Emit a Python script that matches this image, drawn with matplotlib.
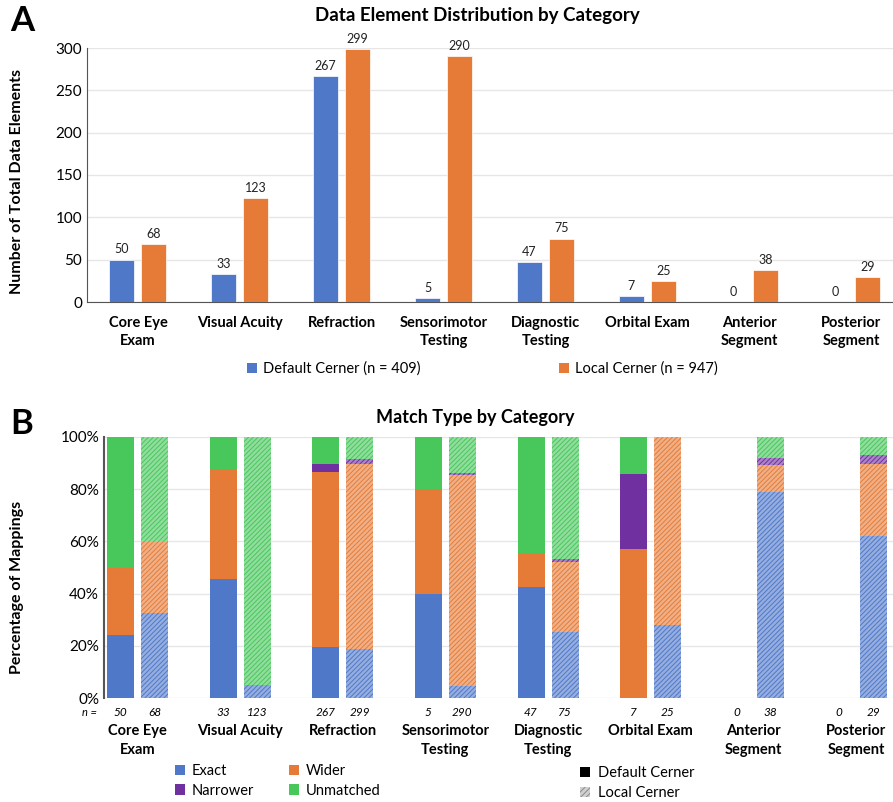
"""
Figura de dos paneles: distribucion de elementos y tipo de match por categoria.
Salida: out.png
"""

import numpy as np
import matplotlib
matplotlib.use("Agg")
import matplotlib.pyplot as plt
from matplotlib.patches import Patch

plt.rcParams.update({
    "font.family": ["Lato", "DejaVu Sans"],
    "font.size": 10,
    "hatch.linewidth": 0.7,
})

# -- Datos --
CATEGORIES = ["Core Eye\nExam", "Visual Acuity", "Refraction", "Sensorimotor\nTesting",
              "Diagnostic\nTesting", "Orbital Exam", "Anterior\nSegment", "Posterior\nSegment"]
DEFAULT_N = [50, 33, 267, 5, 47, 7, 0, 0]
LOCAL_N = [68, 123, 299, 290, 75, 25, 38, 29]

# porcentajes por tipo de match
DEFAULT_EXACT = [24.0, 45.5, 19.7, 40.0, 42.6, 0.0, 0.0, 0.0]
DEFAULT_WIDER = [26.0, 42.4, 66.8, 40.0, 12.7, 57.1, 0.0, 0.0]
DEFAULT_NARROWER = [0.0, 0.0, 3.3, 0.0, 0.0, 28.6, 0.0, 0.0]
DEFAULT_UNMATCHED = [50.0, 12.1, 10.2, 20.0, 44.7, 14.3, 0.0, 0.0]

LOCAL_EXACT = [32.4, 4.9, 18.8, 4.5, 25.3, 28.0, 78.9, 62.1]
LOCAL_WIDER = [27.9, 0.0, 70.7, 81.1, 26.7, 72.0, 10.5, 27.6]
LOCAL_NARROWER = [0.0, 0.0, 1.9, 0.5, 1.3, 0.0, 2.6, 3.4]
LOCAL_UNMATCHED = [39.7, 95.1, 8.6, 13.9, 46.7, 0.0, 7.9, 6.9]

BLUE = "#4F78C9"
ORANGE = "#E67B37"
PURPLE = "#7030A0"
GREEN = "#48C75B"
GRID = "#E6E6E6"
SPINE = "#555555"


def tint(color, f):
    c = np.array(matplotlib.colors.to_rgb(color))
    return tuple(c + (1 - c) * f)


x = np.arange(len(CATEGORIES))
W, H = 893, 802
fig = plt.figure(figsize=(W / 100, H / 100), dpi=100)

# ================================================================
# Panel A
# ================================================================
axA = fig.add_axes([87 / W, (H - 302) / H, (W - 87) / W, 254 / H])
bw = 0.245
off = 0.157
b1 = axA.bar(x - off, DEFAULT_N, bw, color=BLUE, edgecolor="white", linewidth=0.5, zorder=3)
b2 = axA.bar(x + off, LOCAL_N, bw, color=ORANGE, edgecolor="white", linewidth=0.5, zorder=3)
for bars in (b1, b2):
    for r in bars:
        axA.text(r.get_x() + r.get_width() / 2, r.get_height() + 5, f"{int(r.get_height())}",
                 ha="center", va="bottom", fontsize=9, color="#222222")

axA.set_xlim(-0.5, 7.41)
axA.set_ylim(0, 300)
axA.set_yticks(range(0, 301, 50))
axA.set_xticks(x)
axA.set_xticklabels(CATEGORIES, fontweight="bold", fontsize=10.5, linespacing=1.4)
axA.tick_params(axis="both", length=0, labelsize=11)
axA.tick_params(axis="x", pad=10, labelsize=10.5)
axA.grid(axis="y", color=GRID, linewidth=1, zorder=0)
for s in ("top", "right"):
    axA.spines[s].set_visible(False)
axA.spines["left"].set_color(SPINE)
axA.spines["bottom"].set_color(SPINE)
axA.set_ylabel("Number of Total Data Elements", fontweight="bold", fontsize=11.5)
axA.yaxis.set_label_coords(-0.078, 0.474)

fig.text(477 / W, 1 - 15 / H, "Data Element Distribution by Category",
         ha="center", va="center", fontsize=13.5, fontweight="bold")
fig.text(10 / W, 1 - 5 / H, "A", ha="left", va="top", fontsize=25, fontweight="bold")

fig.legend(handles=[Patch(facecolor=BLUE, label="Default Cerner (n = 409)"),
                    Patch(facecolor=ORANGE, label="Local Cerner (n = 947)")],
           loc="center left", bbox_to_anchor=(234 / W, 1 - 369 / H), ncol=2,
           frameon=False, fontsize=10.5, handlelength=0.7, handleheight=0.7,
           handletextpad=0.4, columnspacing=9.5)

# ================================================================
# Panel B
# ================================================================
axB = fig.add_axes([104 / W, (H - 698) / H, (W - 104) / W, 261 / H])
bw2 = 0.263
off2 = 0.166


def stack(ax, xs, series, colors, local):
    bottom = np.zeros(len(xs))
    for vals, col in zip(series, colors):
        vals = np.array(vals)
        if local:
            ax.bar(xs, vals, bw2, bottom=bottom, color=tint(col, 0.4), edgecolor=col,
                   hatch="///////", linewidth=0, zorder=3)
        else:
            ax.bar(xs, vals, bw2, bottom=bottom, color=col, linewidth=0, zorder=3)
        bottom += vals


colors = [BLUE, ORANGE, PURPLE, GREEN]
stack(axB, x - off2, [DEFAULT_EXACT, DEFAULT_WIDER, DEFAULT_NARROWER, DEFAULT_UNMATCHED], colors, False)
stack(axB, x + off2, [LOCAL_EXACT, LOCAL_WIDER, LOCAL_NARROWER, LOCAL_UNMATCHED], colors, True)

axB.set_xlim(-0.326, 7.36)
axB.set_ylim(0, 100)
axB.set_yticks(range(0, 101, 20))
axB.set_yticklabels([f"{v}%" for v in range(0, 101, 20)])
axB.set_xticks(x)
axB.set_xticklabels(CATEGORIES, fontweight="bold", fontsize=10.5, linespacing=1.4)
axB.tick_params(axis="both", length=0, labelsize=11)
axB.tick_params(axis="x", pad=19, labelsize=10.5)
axB.grid(axis="y", color=GRID, linewidth=1, zorder=0)
for s in ("top", "right", "bottom"):
    axB.spines[s].set_visible(False)
axB.spines["left"].set_color(SPINE)
axB.spines["left"].set_linewidth(1.5)
axB.set_ylabel("Percentage of Mappings", fontweight="bold", fontsize=11.5)
axB.yaxis.set_label_coords(-0.101, 0.425)

# n por barra
trans = matplotlib.transforms.blended_transform_factory(axB.transData, axB.transAxes)
for i in range(len(CATEGORIES)):
    axB.text(x[i] - off2, -0.055, str(DEFAULT_N[i]), transform=trans, ha="center",
             va="center", fontsize=8.5, style="italic")
    axB.text(x[i] + off2, -0.055, str(LOCAL_N[i]), transform=trans, ha="center",
             va="center", fontsize=8.5, style="italic")
fig.text(90 / W, 1 - 712 / H, "n =", ha="center", va="center", fontsize=8, style="italic")

fig.text(475 / W, 1 - 417 / H, "Match Type by Category",
         ha="center", va="center", fontsize=13, fontweight="bold")
fig.text(10 / W, 1 - 408 / H, "B", ha="left", va="top", fontsize=25, fontweight="bold")

fig.legend(handles=[Patch(facecolor=BLUE, label="Exact"),
                    Patch(facecolor=PURPLE, label="Narrower"),
                    Patch(facecolor=ORANGE, label="Wider"),
                    Patch(facecolor=GREEN, label="Unmatched")],
           loc="center left", bbox_to_anchor=(162 / W, 1 - 781 / H), ncol=2,
           frameon=False, fontsize=10.5, handlelength=0.7, handleheight=0.7,
           handletextpad=0.4, columnspacing=2.45, labelspacing=0.35)

fig.legend(handles=[Patch(facecolor="black", label="Default Cerner"),
                    Patch(facecolor="#D0D0D0", edgecolor="#8A8A8A", hatch="//////",
                          linewidth=0, label="Local Cerner")],
           loc="center left", bbox_to_anchor=(567 / W, 1 - 783 / H), ncol=1,
           frameon=False, fontsize=10.5, handlelength=0.7, handleheight=0.7,
           handletextpad=0.5, labelspacing=0.45)

fig.savefig("out.png", dpi=100)
print("[OK] out.png")
